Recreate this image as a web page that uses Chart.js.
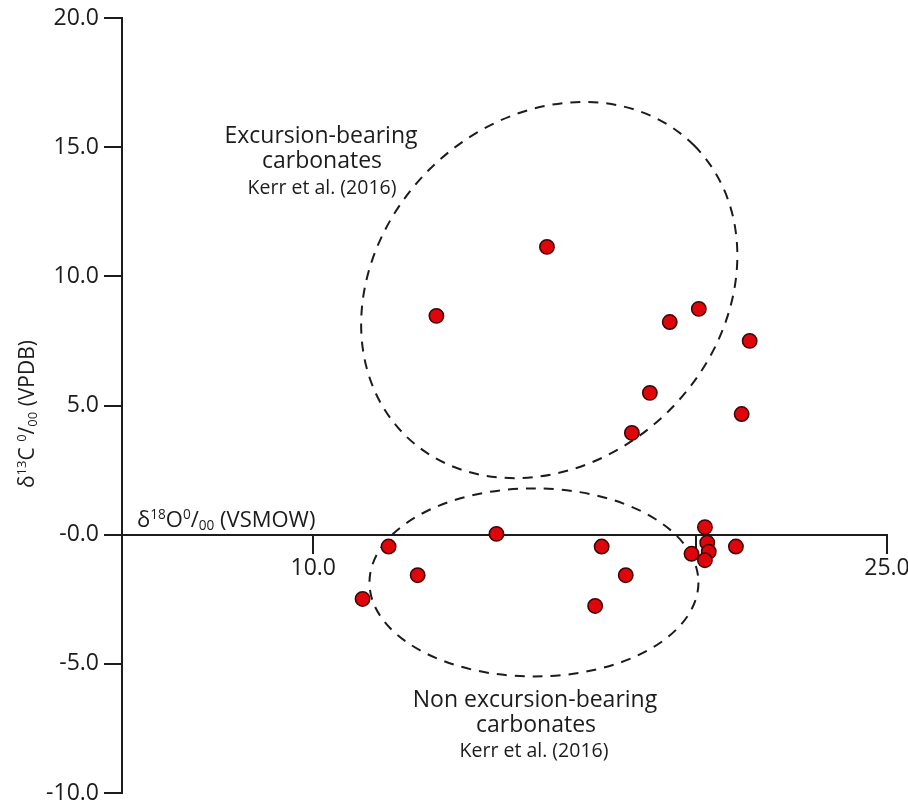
<!DOCTYPE html>
<html>
<head>
<meta charset="utf-8">
<script src="https://cdn.jsdelivr.net/npm/chart.js@4.4.1/dist/chart.umd.min.js"></script>
<style>
html, body { margin: 0; padding: 0; background: #fff; }
#wrap { width: 908px; height: 807px; }
</style>
</head>
<body>
<div id="wrap"><canvas id="iso"></canvas></div>
<script>
// excursion-bearing carbonates (d18O, d13C)
var excX = [16.11, 13.22, 20.08, 19.32, 21.41, 18.80, 21.20, 18.33];
var excY = [11.14, 8.47, 8.74, 8.23, 7.50, 5.49, 4.67, 3.94];
// non excursion-bearing carbonates
var nonX = [11.97, 12.73, 11.29, 14.79, 17.54, 18.17, 17.37, 20.24, 20.30, 20.34, 19.89, 20.24, 21.05];
var nonY = [-0.46, -1.57, -2.49, 0.03, -0.46, -1.57, -2.76, 0.29, -0.31, -0.66, -0.74, -0.99, -0.46];

var xTicks = [10, 20, 25];
var xTickLabels = ['10.0', '', '25.0'];
var yTicks = [-10, -5, 0, 5, 10, 15, 20];
var yTickLabels = ['-10.0', '-5.0', '-0.0', '5.0', '10.0', '15.0', '20.0'];

// group outlines: centre x, centre y, radius (x units), radius (y units), rotation deg
var excEllipse = [16.17, 9.47, 5.35, 6.58, -45];
var nonEllipse = [15.77, -1.85, 4.30, 3.64, 0];

var ink = '#1c1c1c';
var fam = "'Open Sans', sans-serif";

function toPts(xs, ys) {
    return xs.map(function(v, i) { return { x: v, y: ys[i] }; });
}

// parts: [text, mode] mode 0 normal, 1 superscript, -1 subscript
function richText(ctx, parts, x, y, size, align) {
    var w = 0;
    parts.forEach(function(p) {
        ctx.font = (p[1] ? size * 0.62 : size) + 'px ' + fam;
        w += ctx.measureText(p[0]).width;
    });
    var cx = align === 'center' ? x - w / 2 : x;
    ctx.textAlign = 'left';
    ctx.textBaseline = 'alphabetic';
    parts.forEach(function(p) {
        ctx.font = (p[1] ? size * 0.62 : size) + 'px ' + fam;
        var dy = p[1] === 1 ? -size * 0.36 : (p[1] === -1 ? size * 0.14 : 0);
        ctx.fillText(p[0], cx, y + dy);
        cx += ctx.measureText(p[0]).width;
    });
}

function centred(ctx, txt, x, y, size) {
    ctx.font = size + 'px ' + fam;
    ctx.textAlign = 'center';
    ctx.textBaseline = 'alphabetic';
    ctx.fillText(txt, x, y);
}

var overlay = {
    id: 'overlay',
    beforeDatasetsDraw: function(chart) {
        var ctx = chart.ctx, xs = chart.scales.x, ys = chart.scales.y;
        [excEllipse, nonEllipse].forEach(function(e) {
            var cx = xs.getPixelForValue(e[0]);
            var cy = ys.getPixelForValue(e[1]);
            var rx = xs.getPixelForValue(e[0] + e[2]) - cx;
            var ry = cy - ys.getPixelForValue(e[1] + e[3]);
            ctx.save();
            ctx.setLineDash([10, 8]);
            ctx.lineWidth = 2;
            ctx.strokeStyle = ink;
            ctx.beginPath();
            ctx.ellipse(cx, cy, rx, ry, e[4] * Math.PI / 180, 0, Math.PI * 2);
            ctx.stroke();
            ctx.restore();
        });
    },
    afterDraw: function(chart) {
        var ctx = chart.ctx;
        ctx.save();
        ctx.fillStyle = ink;
        // group labels
        centred(ctx, 'Excursion-bearing', 321, 143, 23);
        centred(ctx, 'carbonates', 322, 168, 23);
        centred(ctx, 'Kerr et al. (2016)', 322, 194, 19.5);
        centred(ctx, 'Non excursion-bearing', 535, 707, 23);
        centred(ctx, 'carbonates', 536, 732, 23);
        centred(ctx, 'Kerr et al. (2016)', 534, 757, 19.5);
        // x axis title
        richText(ctx, [['\u03b4', 0], ['18', 1], ['O', 0], ['0', 1], ['/', 0], ['00', -1], [' (VSMOW)', 0]], 137, 527, 22, 'left');
        // y axis title
        ctx.translate(34, 414);
        ctx.rotate(-Math.PI / 2);
        richText(ctx, [['\u03b4', 0], ['13', 1], ['C ', 0], ['0', 1], ['/', 0], ['00', -1], [' (VPDB)', 0]], 0, 0, 21, 'center');
        ctx.restore();
    }
};

new Chart(document.getElementById('iso'), {
    type: 'scatter',
    data: {
        datasets: [
            { label: 'Excursion-bearing carbonates', data: toPts(excX, excY) },
            { label: 'Non excursion-bearing carbonates', data: toPts(nonX, nonY) }
        ]
    },
    options: {
        responsive: true,
        maintainAspectRatio: false,
        animation: false,
        layout: { padding: { top: 18, right: 21, bottom: 14, left: 0 } },
        elements: {
            point: { radius: 7.2, hoverRadius: 7.2, borderWidth: 1.5, backgroundColor: '#e0050a', borderColor: '#3a0505' }
        },
        plugins: { legend: { display: false }, tooltip: { enabled: false } },
        scales: {
            x: {
                type: 'linear', min: 5, max: 25,
                position: { y: 0 },
                afterBuildTicks: function(s) { s.ticks = xTicks.map(function(v) { return { value: v }; }); },
                afterFit: function(s) { s.height = 0; s.paddingLeft = 0; s.paddingRight = 0; },
                ticks: {
                    callback: function(v) { return xTickLabels[xTicks.indexOf(v)]; },
                    font: { family: fam, size: 23 }, color: ink, padding: 2, maxRotation: 0, autoSkip: false
                },
                grid: { drawOnChartArea: false, drawTicks: true, tickLength: 18, color: ink, lineWidth: 2 },
                border: { display: true, color: ink, width: 2 }
            },
            y: {
                type: 'linear', min: -10, max: 20,
                afterBuildTicks: function(s) { s.ticks = yTicks.map(function(v) { return { value: v }; }); },
                afterFit: function(s) { s.width = 122; s.paddingTop = 0; s.paddingBottom = 0; },
                ticks: {
                    callback: function(v) { return yTickLabels[yTicks.indexOf(v)]; },
                    font: { family: fam, size: 23 }, color: ink, padding: 5, autoSkip: false
                },
                grid: { drawOnChartArea: false, drawTicks: true, tickLength: 18, color: ink, lineWidth: 2 },
                border: { display: true, color: ink, width: 2 }
            }
        }
    },
    plugins: [overlay]
});
</script>
</body>
</html>
